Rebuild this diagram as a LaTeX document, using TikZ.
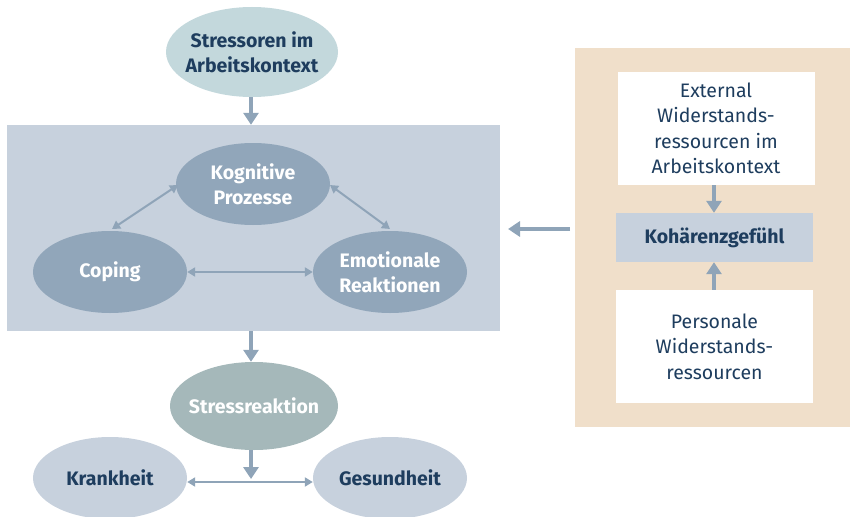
\documentclass[tikz,border=0pt]{standalone}
\usepackage{fontspec}
\setmainfont{Fira Sans}
\usetikzlibrary{shapes.geometric,arrows.meta}
\definecolor{darkblue}{HTML}{1E3D5E}
\definecolor{arrowc}{HTML}{8FA4B8}
\definecolor{boxblue}{HTML}{C7D1DD}
\definecolor{midblue}{HTML}{91A6BA}
\definecolor{tealtop}{HTML}{C3D8DC}
\definecolor{stressc}{HTML}{A5B8BA}
\definecolor{beige}{HTML}{F0DFCA}
\tikzset{
  ell/.style={ellipse, inner sep=0pt, minimum width=154pt, minimum height=82pt},
  elltext/.style={align=center, inner sep=0pt, font=\fontsize{19.5}{25}\selectfont\bfseries},
  darkell/.style={ell, fill=midblue, label={[elltext, text=white]center:#1}},
  lightell/.style={ell, fill=boxblue, label={[elltext, text=darkblue]center:#1}},
  rbox/.style={rectangle, inner sep=0pt, minimum width=197pt, align=center, text=darkblue, font=\fontsize{19.5}{25.5}\selectfont},
  bigarrow/.style={draw=arrowc, line width=4pt, -{Triangle[width=15pt,length=12pt]}},
  smallarrow/.style={draw=arrowc, line width=2pt, {Triangle[width=9pt,length=8pt]}-{Triangle[width=9pt,length=8pt]}}
}
\begin{document}
\begin{tikzpicture}[x=1pt,y=-1pt]
\useasboundingbox (0,0) rectangle (850,516);
\clip (0,0) rectangle (850,516);
% main box
\node[rectangle, fill=boxblue, minimum width=493pt, minimum height=206pt, inner sep=0pt] (main) at (253.5,228) {};
% right panel
\node[rectangle, fill=beige, minimum width=275pt, minimum height=379pt, inner sep=0pt] (panel) at (712.5,237.5) {};

\node[ell, fill=tealtop, minimum width=172pt, minimum height=90pt, label={[elltext, text=darkblue]center:Stressoren im\\Arbeitskontext}] (stressoren) at (252,52) {};
\node[darkell={Kognitive\\Prozesse}] (kog) at (253,184) {};
\node[darkell={Coping}] (coping) at (110,272) {};
\node[darkell={Emotionale\\Reaktionen}] (emo) at (390,272) {};
\node[ell, fill=stressc, minimum width=168pt, minimum height=88pt, label={[elltext, text=white]center:Stressreaktion}] (stressr) at (254,406) {};
\node[lightell={Krankheit}] (krank) at (110,478) {};
\node[lightell={Gesundheit}] (gesund) at (390,478) {};

\node[rbox, fill=white, minimum height=113pt] (ext) at (716,128.5) {External\\Widerstands-\\ressourcen im\\Arbeitskontext};
\node[rbox, fill=boxblue, minimum height=49pt, font=\fontsize{19.5}{25}\selectfont\bfseries] (koh) at (714.5,237.5) {Kohärenzgefühl};
\node[rbox, fill=white, minimum height=113pt] (pers) at (714.5,346.5) {Personale\\Widerstands-\\ressourcen};

\coordinate (split) at (251,479);
\coordinate (panelarrow) at (570,229);
\coordinate (mainright) at (508,229);

\draw[bigarrow] (stressoren.south -| 251,0) -- (main.north -| 251,0);
\draw[bigarrow] (main.south -| 251,0) -- (stressr.north -| 251,0);
\draw[bigarrow] (stressr.south -| 251,0) -- (split);
\draw[bigarrow] (panelarrow) -- (mainright);
\draw[bigarrow] (ext.south -| 714,0) -- (koh.north -| 714,0);
\draw[bigarrow] (pers.north -| 714,0) -- (koh.south -| 714,0);

\draw[smallarrow] (coping.east) -- (emo.west);
\draw[smallarrow] (112,229) -- (178,185);
\draw[smallarrow] (330,185) -- (390,229);
\draw[smallarrow] (krank.east |- 0,482) -- (gesund.west |- 0,482);
\end{tikzpicture}
\end{document}
